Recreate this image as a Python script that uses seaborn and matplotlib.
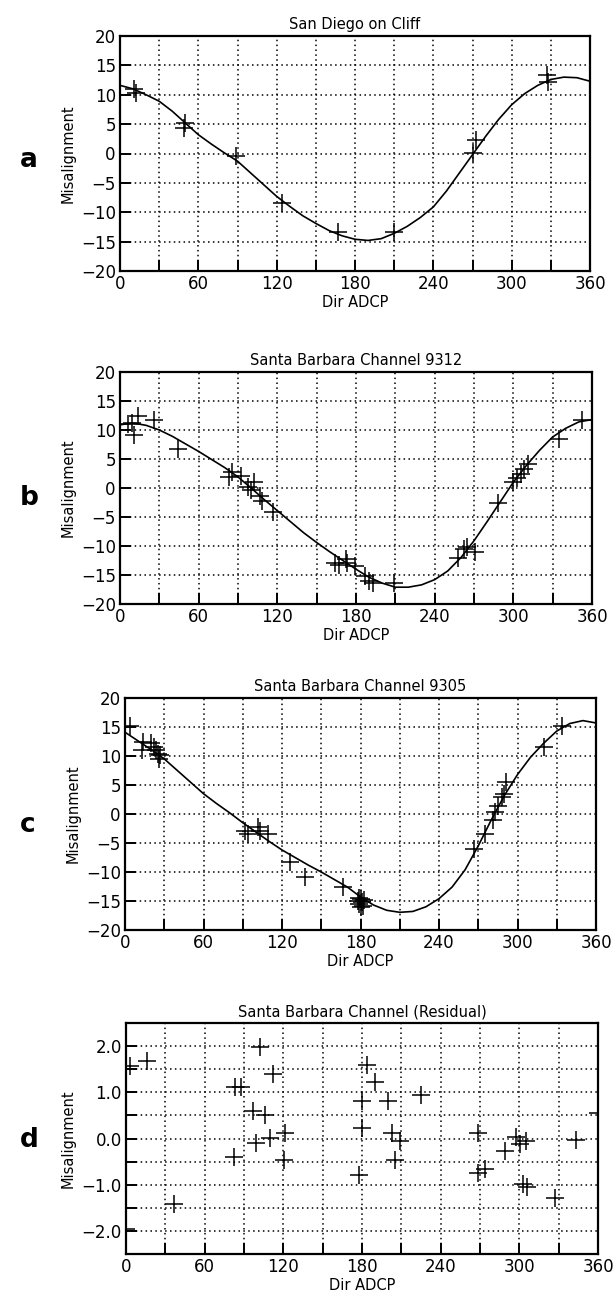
import numpy as np
import pandas as pd
import matplotlib
matplotlib.use("Agg")
import matplotlib.pyplot as plt
import seaborn as sns
from matplotlib.ticker import FixedLocator

sns.set_style("white")
plt.rcParams['font.family'] = ['DejaVu Sans']
plt.rcParams['axes.unicode_minus'] = True
plt.rcParams['text.color'] = 'black'
plt.rcParams['axes.labelcolor'] = 'black'

# ---------------- data ----------------
titles = ["San Diego on Cliff", "Santa Barbara Channel 9312",
          "Santa Barbara Channel 9305", "Santa Barbara Channel (Residual)"]
panel_letters = ["a", "b", "c", "d"]
xlabel = "Dir ADCP"
ylabel = "Misalignment"

fit_x = [0, 10, 20, 30, 40, 50, 60, 70, 80, 90, 100, 110, 120, 130, 140, 150, 160, 170,
         180, 190, 200, 210, 220, 230, 240, 250, 260, 270, 280, 290, 300, 310, 320, 330,
         340, 350, 360]

# Panel a
a_pts_x = [11, 12, 50, 49, 89, 124, 167, 210, 273, 270, 327, 328]
a_pts_y = [11.0, 10.3, 5.2, 4.3, -0.5, -8.5, -13.3, -13.3, 2.3, 0.1, 13.3, 12.2]
a_fit_y = [11.6, 11.0, 10.0, 8.9, 7.2, 5.2, 3.2, 1.6, 0.1, -1.3, -3.3, -5.3, -7.3, -9.0,
           -10.6, -11.9, -13.1, -14.0, -14.6, -14.8, -14.5, -13.6, -12.4, -10.9, -9.1,
           -6.4, -3.3, -0.2, 2.9, 5.8, 8.3, 10.2, 11.6, 12.6, 13.0, 12.9, 12.3]

# Panel b
b_pts_x = [6, 9, 14, 10.5, 26, 44, 83, 85.6, 92, 98, 102, 100, 107, 108.5, 117,
           164, 167, 172, 173, 179, 187, 190, 193, 209,
           258, 262, 265, 271, 288, 300, 303, 306, 308, 311, 335, 352]
b_pts_y = [11.1, 11.2, 12.5, 9.1, 11.7, 6.8, 1.9, 2.7, 2.0, 0.1, 1.0, -0.3, -1.3, -2.2, -4.2,
           -12.9, -13.2, -12.3, -12.9, -13.5, -15.2, -16.0, -16.4, -16.4,
           -12.0, -10.6, -10.2, -11.0, -2.5, 1.0, 1.8, 2.5, 3.3, 4.2, 8.5, 11.7]
b_fit_y = [10.9, 11.2, 10.8, 10.0, 8.9, 7.6, 6.3, 4.9, 3.5, 1.9, 0.0, -2.0, -3.9, -5.8,
           -7.7, -9.4, -11.0, -12.5, -14.0, -15.4, -16.4, -17.1, -17.1, -16.7, -15.8,
           -14.3, -12.0, -9.1, -5.8, -2.4, 1.0, 3.9, 6.5, 8.8, 10.3, 11.4, 11.8]

# Panel c
c_pts_x = [4, 13, 14, 20, 22, 24, 25, 26, 27,
           91.7, 94.3, 102, 103, 109.6, 126, 137.6, 167,
           178, 179, 180, 181, 182, 180, 183, 179,
           267, 275, 281, 282.5, 285, 288, 290, 291.5, 320, 334]
c_pts_y = [15.2, 11.0, 12.5, 12.2, 11.5, 11.0, 10.3, 9.5, 10.2,
           -2.9, -3.4, -2.3, -2.9, -3.4, -8.3, -10.9, -12.6,
           -15.0, -15.5, -14.6, -15.2, -15.8, -16.0, -14.9, -14.4,
           -6.0, -3.4, -1.1, 0.3, 1.4, 2.9, 3.4, 5.5, 11.5, 15.1]
c_fit_y = [14.1, 12.6, 11.1, 9.5, 7.5, 5.5, 3.5, 1.8, 0.2, -1.5, -3.1, -4.7, -6.2, -7.5,
           -8.8, -10.0, -11.3, -12.6, -14.3, -15.7, -16.6, -16.95, -16.8, -16.0, -14.6,
           -12.6, -9.6, -5.5, -1.0, 3.2, 6.8, 9.8, 12.2, 14.3, 15.6, 16.1, 15.7]

# Panel d (residual)
d_pts_x = [0, 2.8, 16, 36.3, 82, 83, 88, 97, 99, 102, 106, 110, 112, 120.5, 121,
           178, 180, 180, 184, 190, 200, 202.5, 205, 209, 225,
           268.5, 268.5, 273.6, 289, 297.7, 300.8, 303, 305, 306, 327, 343, 360]
d_pts_y = [-1.95, 1.56, 1.68, -1.42, -0.40, 1.11, 1.11, 0.60, -0.09, 1.99, 0.50, 0.01, 1.40,
           -0.47, 0.12, -0.78, 0.82, 0.23, 1.60, 1.22, 0.82, 0.12, -0.47, -0.06, 0.94,
           0.12, -0.74, -0.67, -0.26, 0.03, -0.12, -0.98, -0.06, -1.05, -1.28, -0.04, 0.55]

x_ticks = list(range(0, 361, 30))
x_labels = [str(t) if t % 60 == 0 else "" for t in x_ticks]
y_ticks_abc = [-20, -15, -10, -5, 0, 5, 10, 15, 20]
y_ticks_d = [-2.0, -1.5, -1.0, -0.5, 0.0, 0.5, 1.0, 1.5, 2.0]
y_labels_d = ["\u22122.0", "", "\u22121.0", "", "0.0", "", "1.0", "", "2.0"]

# ---------------- layout ----------------
W, H = 616, 1303
fig = plt.figure(figsize=(W / 100, H / 100), dpi=100)
fig.patch.set_facecolor("white")


def box(l, r, t, b):
    return [l / W, 1 - b / H, (r - l) / W, (b - t) / H]


boxes = [box(120, 590, 36, 271), box(120, 592, 372, 604),
         box(125, 596, 698, 930), box(126, 598, 1023, 1254)]
letter_y = [160, 498, 825, 1140]

pts = [(a_pts_x, a_pts_y), (b_pts_x, b_pts_y), (c_pts_x, c_pts_y), (d_pts_x, d_pts_y)]
fits = [a_fit_y, b_fit_y, c_fit_y, None]

for i in range(4):
    ax = fig.add_axes(boxes[i])
    px, py = pts[i]
    dfp = pd.DataFrame({"x": px, "y": py})
    if fits[i] is not None:
        dff = pd.DataFrame({"x": fit_x, "y": fits[i]})
        sns.lineplot(data=dff, x="x", y="y", color="black", linewidth=1.2,
                     sort=False, estimator=None, ax=ax)
    sns.scatterplot(data=dfp, x="x", y="y", marker="+", s=150, color="black",
                    linewidth=1.1, ax=ax, zorder=3)
    ax.set_xlim(0, 360)
    ax.xaxis.set_major_locator(FixedLocator(x_ticks))
    ax.set_xticklabels(x_labels)
    if i < 3:
        ax.set_ylim(-20, 20)
        ax.yaxis.set_major_locator(FixedLocator(y_ticks_abc))
        ax.set_yticklabels([("\u2212" + str(-t)) if t < 0 else str(t) for t in y_ticks_abc])
    else:
        ax.set_ylim(-2.5, 2.5)
        ax.yaxis.set_major_locator(FixedLocator(y_ticks_d))
        ax.set_yticklabels(y_labels_d)
    ax.grid(True, linestyle=(0, (1, 2.2)), color="black", linewidth=1.1)
    for s in ax.spines.values():
        s.set_color("black")
        s.set_linewidth(1.6)
    ax.tick_params(bottom=True, left=True, top=False, right=False,
                   direction="in", length=8, width=1.4, labelsize=12,
                   colors="black", pad=3)
    ax.set_title(titles[i], fontsize=10.5, pad=5, color="black")
    ax.set_xlabel(xlabel, fontsize=10.5, labelpad=1, color="black")
    ax.set_ylabel(ylabel, fontsize=10.5, labelpad=4, color="black")
    fig.text(20 / W, 1 - letter_y[i] / H, panel_letters[i], fontsize=19,
             fontweight="bold", ha="left", va="center", color="black")

fig.savefig("out.png", dpi=100, facecolor="white")
